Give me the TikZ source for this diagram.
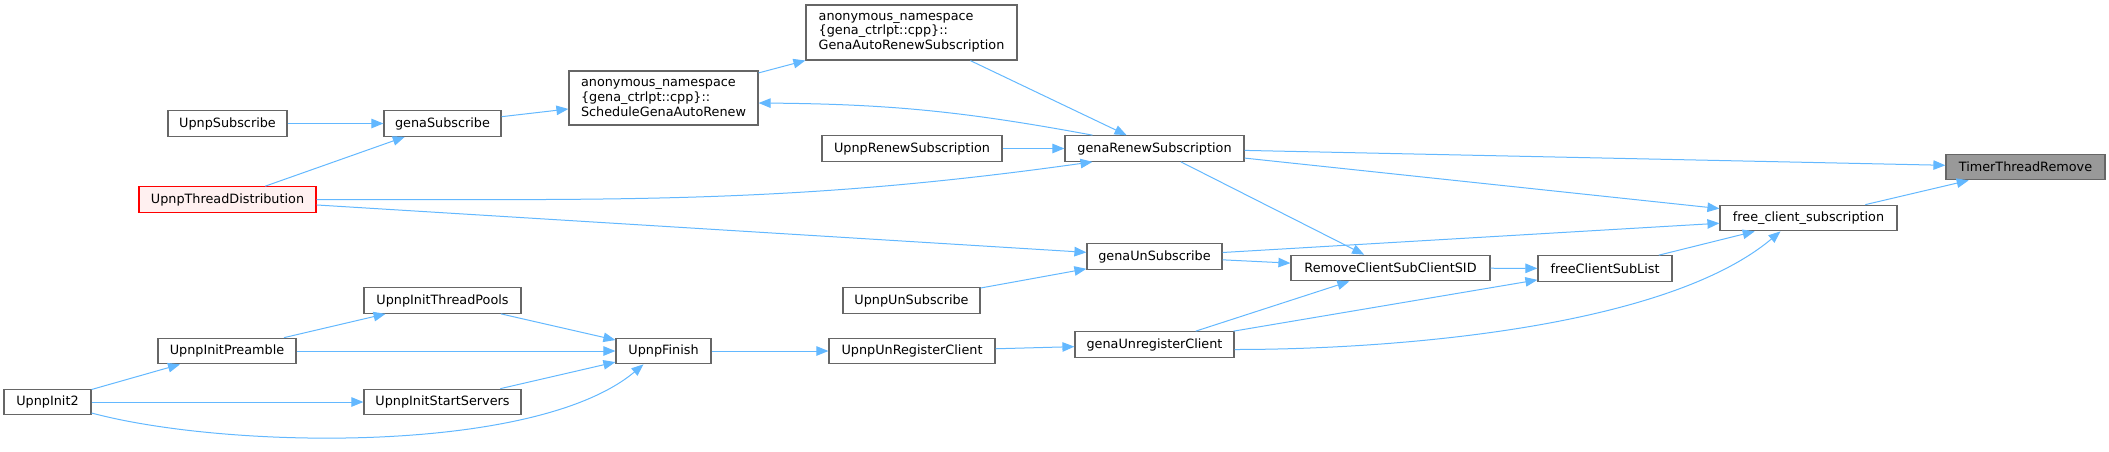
\documentclass[tikz,border=0pt]{standalone}
\usepackage{fontspec}
\setmainfont{DejaVu Sans}
\usetikzlibrary{arrows.meta}
\definecolor{edgeblue}{HTML}{63B8FF}
\definecolor{boxgray}{HTML}{666666}
\definecolor{rootgray}{HTML}{999999}
\definecolor{hilite}{HTML}{FFF0F0}
\begin{document}
\begin{tikzpicture}[x=1pt, y=1pt,
      fn/.style={draw=boxgray, fill=white, line width=1.2pt, inner sep=0pt, minimum height=25.5pt,
        align=left, font=\fontsize{12.8pt}{14.7pt}\selectfont},
      root/.style={fn, fill=rootgray},
      mark red/.style={fn, draw=red, fill=hilite},
      call/.style={-{Triangle[length=12pt, width=9.5pt]}, draw=edgeblue, line width=1pt}
    ]
    \useasboundingbox (0,0) rectangle (2109,-451);
    \node[root, minimum width=159pt] (tmr) at (2025.5,-167) {TimerThreadRemove};
    \node[fn, minimum width=177pt] (fcs) at (1808.5,-218) {free\_client\_subscription};
    \node[fn, minimum width=134pt] (fcsl) at (1605,-268.5) {freeClientSubList};
    \node[fn, minimum width=199pt] (rcs) at (1390.5,-268) {RemoveClientSubClientSID};
    \node[fn, minimum width=179pt] (grs) at (1154.5,-148.5) {genaRenewSubscription};
    \node[fn, minimum width=135pt] (gus) at (1154.5,-256.5) {genaUnSubscribe};
    \node[fn, minimum width=159pt] (gurc) at (1154.5,-344.5) {genaUnregisterClient};
    \node[fn, minimum width=211pt, minimum height=55pt] (gars) at (911.5,-32.5)
      {anonymous\_namespace\\\{gena\_ctrlpt::cpp\}::\\GenaAutoRenewSubscription};
    \node[fn, minimum width=180pt] (urs) at (912,-148.5) {UpnpRenewSubscription};
    \node[fn, minimum width=137pt] (uus) at (911.5,-300.5) {UpnpUnSubscribe};
    \node[fn, minimum width=166pt] (uurc) at (912,-351) {UpnpUnRegisterClient};
    \node[fn, minimum width=189pt, minimum height=54pt] (sgar) at (663.5,-98)
      {anonymous\_namespace\\\{gena\_ctrlpt::cpp\}::\\ScheduleGenaAutoRenew};
    \node[fn, minimum width=95pt] (uf) at (663.5,-351) {UpnpFinish};
    \node[fn, minimum width=117pt] (gs) at (442.5,-123.5) {genaSubscribe};
    \node[fn, minimum width=157pt] (uitp) at (442.5,-300.5) {UpnpInitThreadPools};
    \node[fn, minimum width=157pt] (uiss) at (442.5,-402) {UpnpInitStartServers};
    \node[fn, minimum width=119pt] (us) at (227.5,-123.5) {UpnpSubscribe};
    \node[mark red, minimum width=177pt] (utd) at (227.5,-199.5) {UpnpThreadDistribution};
    \node[fn, minimum width=138pt] (uip) at (227,-351) {UpnpInitPreamble};
    \node[fn, minimum width=87pt] (ui2) at (47.5,-402) {UpnpInit2};
    \draw[call] (us) -- (gs);
    \draw[call] (utd) -- (gs);
    \draw[call] (gs) -- (sgar);
    \draw[call] (sgar) -- (gars);
    \draw[call] (gars) -- (grs);
    \draw[call] ([xshift=-62pt]grs.north) to[bend right=5] ([yshift=-5pt]sgar.east);
    \draw[call] (urs) -- (grs);
    \draw[call] (utd.east) to[out=0, in=188] ([xshift=-62pt]grs.south);
    \draw[call] (utd) -- (gus);
    \draw[call] (grs) -- (tmr);
    \draw[call] (grs) -- (fcs);
    \draw[call] (grs) -- (rcs);
    \draw[call] (fcs) -- (tmr);
    \draw[call] (gus) -- (fcs);
    \draw[call] (gus) -- (rcs);
    \draw[call] (uus) -- (gus);
    \draw[call] (rcs) -- (fcsl);
    \draw[call] (fcsl) -- (fcs);
    \draw[call] (gurc) -- (rcs);
    \draw[call] (gurc) -- (fcsl);
    \draw[call] ([yshift=-5pt]gurc.east) to[out=0, in=220, looseness=0.7] ([xshift=-28pt]fcs.south);
    \draw[call] (uurc) -- (gurc);
    \draw[call] (uf) -- (uurc);
    \draw[call] (uitp) -- (uf);
    \draw[call] (uip) -- (uf);
    \draw[call] (uiss) -- (uf);
    \draw[call] ([yshift=-11pt]ui2.east) to[out=-15, in=-140, looseness=0.65] ([xshift=-20pt]uf.south);
    \draw[call] (uip) -- (uitp);
    \draw[call] (ui2) -- (uip);
    \draw[call] (ui2) -- (uiss);
  \end{tikzpicture}
\end{document}
